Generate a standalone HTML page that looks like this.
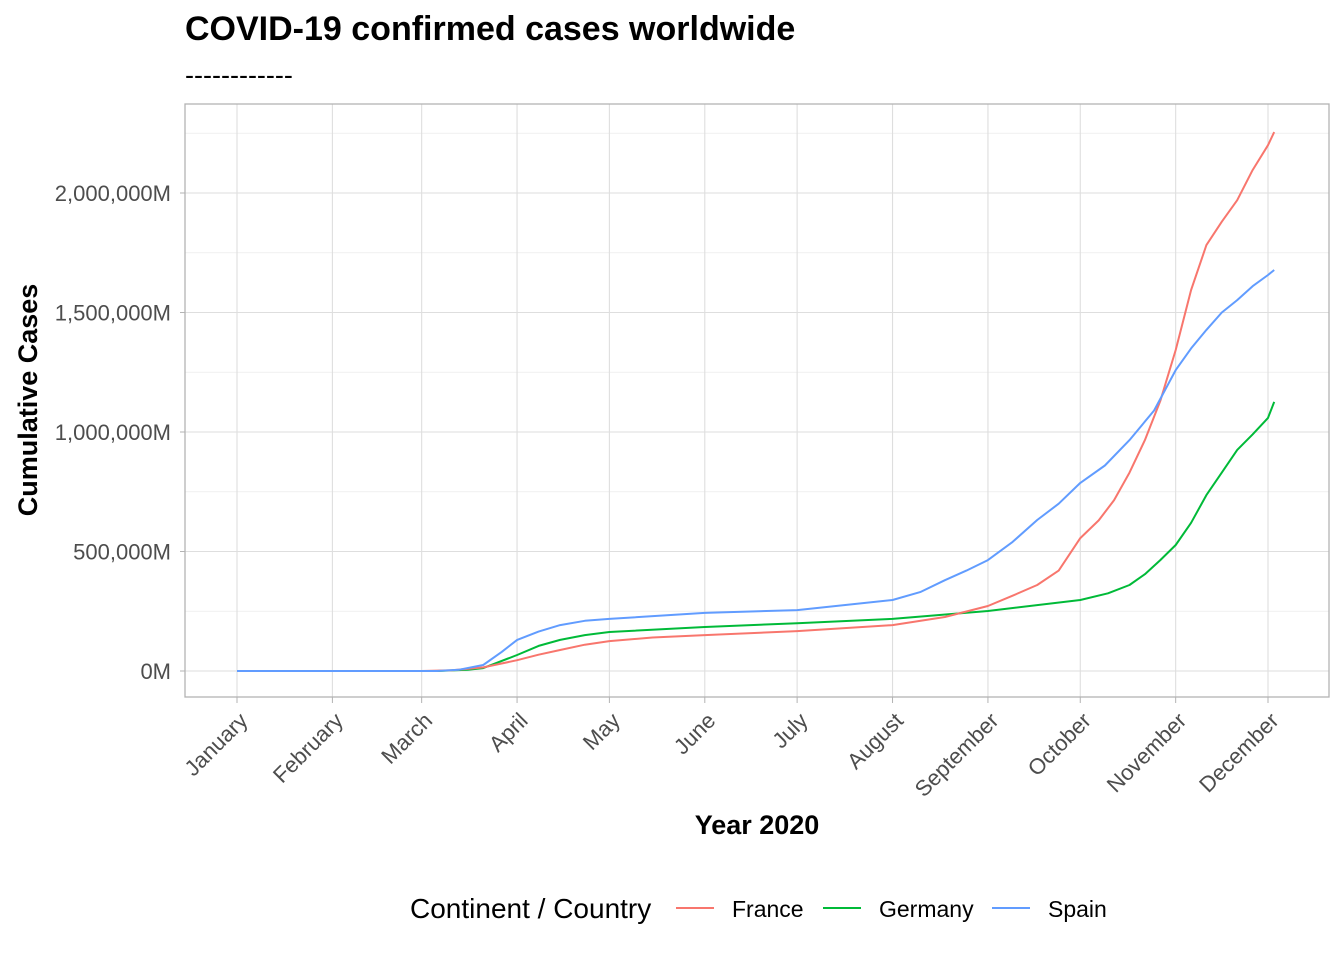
<!DOCTYPE html>
<html><head><meta charset="utf-8"><style>
body{margin:0;background:#fff;font-family:"Liberation Sans",sans-serif}
</style></head><body>
<svg id="chart" width="1344" height="960" xmlns="http://www.w3.org/2000/svg">
<text x="185" y="40" font-size="34" font-weight="bold">COVID-19 confirmed cases worldwide</text>
<text x="185" y="84" font-size="27">------------</text>
<g id="grid"></g>
<g id="axes"></g>
<g id="series"></g>
<rect x="185" y="104" width="1144" height="593" fill="none" stroke="#b3b3b3" stroke-width="1.3"/>
<text x="757" y="834" font-size="27" font-weight="bold" text-anchor="middle">Year 2020</text>
<text transform="translate(37,400) rotate(-90)" font-size="27" font-weight="bold" text-anchor="middle">Cumulative Cases</text>
<g>
<text x="410" y="918" font-size="28">Continent / Country</text>
<line x1="676" y1="908" x2="714" y2="908" stroke="#F8766D" stroke-width="2"/>
<text x="732" y="917" font-size="23">France</text>
<line x1="823" y1="908" x2="861" y2="908" stroke="#00BA38" stroke-width="2"/>
<text x="879" y="917" font-size="23">Germany</text>
<line x1="992" y1="908" x2="1030" y2="908" stroke="#619CFF" stroke-width="2"/>
<text x="1048" y="917" font-size="23">Spain</text>
</g>
</svg>
<script>
const monthLabels=["January","February","March","April","May","June","July","August","September","October","November","December"];
const monthDays=[0,31,60,91,121,152,182,213,244,274,305,335];
const yTicks=[0,500000,1000000,1500000,2000000];
const yTickLabels=["0M","500,000M","1,000,000M","1,500,000M","2,000,000M"];
const franceDays=[0,60,70,80,91,98,105,113,121,135,152,182,213,230,244,252,260,267,274,280,285,290,295,300,305,310,315,320,325,330,335,337];
const franceVals=[0,0,3000,15000,45000,68000,88000,110000,125000,140000,150000,167000,192000,226000,272000,315000,360000,420000,556000,630000,715000,830000,966000,1130000,1343000,1594000,1782000,1880000,1970000,2096000,2200000,2255000];
const germanyDays=[0,65,75,80,91,98,105,113,121,152,182,213,244,274,283,290,295,300,305,310,315,320,325,330,335,337];
const germanyVals=[0,0,5000,12000,67000,105000,130000,150000,163000,184000,200000,218000,251000,297000,325000,360000,405000,464000,527000,620000,736000,830000,925000,990000,1059000,1126000];
const spainDays=[0,65,72,80,86,91,98,105,113,121,152,182,213,222,230,237,244,252,260,267,274,282,290,298,305,310,315,320,325,330,335,337];
const spainVals=[0,0,5000,25000,80000,130000,165000,192000,210000,218000,243000,255000,297000,330000,380000,420000,464000,540000,632000,700000,787000,860000,966000,1090000,1259000,1350000,1427000,1500000,1552000,1610000,1657000,1678000];

const NS="http://www.w3.org/2000/svg";
const xS=d=>237+d*(1268-237)/335;
const yS=v=>671-v*(671-193)/2000000;
function mk(tag,attrs,parent){const e=document.createElementNS(NS,tag);for(const k in attrs)e.setAttribute(k,attrs[k]);parent.appendChild(e);return e;}
const grid=document.getElementById('grid'),axes=document.getElementById('axes'),ser=document.getElementById('series');
for(let i=0;i<yTicks.length;i++){
  const y=yS(yTicks[i]);
  const l=mk('line',{x1:185,x2:1329,y1:y,y2:y,stroke:'#dedede','stroke-width':1.1},grid);
  
  
  const ym=yS(yTicks[i]+250000);
  const m=mk('line',{x1:185,x2:1329,y1:ym,y2:ym,stroke:'#ececec','stroke-width':0.8},grid);
  
  
  const tk=mk('line',{x1:180,x2:185,y1:y,y2:y,stroke:'#b3b3b3'},axes);
  
  
  const t=mk('text',{x:171,y:y+8,'font-size':22,fill:'#4d4d4d','text-anchor':'end'},axes);
  t.textContent=yTickLabels[i];
  
  
}
for(let i=0;i<monthDays.length;i++){
  const x=xS(monthDays[i]);
  const l=mk('line',{x1:x,x2:x,y1:104,y2:697,stroke:'#dedede','stroke-width':1.1},grid);
  
  
  const tk=mk('line',{x1:x,x2:x,y1:697,y2:703,stroke:'#b3b3b3'},axes);
  
  
  const t=mk('text',{transform:`translate(${x+12},${722}) rotate(-45)`,'font-size':22,fill:'#4d4d4d','text-anchor':'end'},axes);
  t.textContent=monthLabels[i];
  
  
}
function line(days,vals,color,name){
  const d=days.map((dd,i)=>(i?'L':'M')+xS(dd).toFixed(1)+','+yS(vals[i]).toFixed(1)).join(' ');
  const p=mk('path',{d:d,fill:'none',stroke:color,'stroke-width':2,'stroke-linejoin':'round'},ser);
  
  
}
line(germanyDays,germanyVals,'#00BA38','germany-line');
line(franceDays,franceVals,'#F8766D','france-line');
line(spainDays,spainVals,'#619CFF','spain-line');
</script>
</body></html>
